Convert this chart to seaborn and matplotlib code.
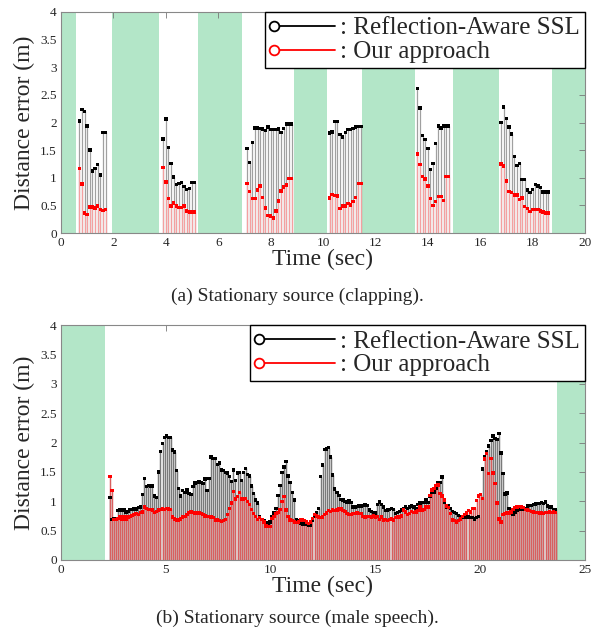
import numpy as np
import pandas as pd
import matplotlib
matplotlib.use('Agg')
import matplotlib.pyplot as plt
import seaborn as sns
from matplotlib.lines import Line2D
from matplotlib.legend_handler import HandlerLine2D
from matplotlib.ticker import FuncFormatter

# (a) stationary source, clapping: six bursts sampled every 0.1 s
clap_step = 0.1
clap_starts = [0.7, 3.9, 7.1, 10.25, 13.6, 16.8]
clap_ras = [
    [2.03, 2.23, 2.20, 1.94, 1.50, 1.12, 1.17, 1.24, 1.05, 1.82, 1.82],
    [1.70, 2.06, 1.55, 1.26, 1.01, 0.88, 0.90, 0.91, 0.84, 0.79, 0.81, 0.91, 0.91],
    [1.53, 1.28, 1.64, 1.90, 1.90, 1.89, 1.88, 1.86, 1.92, 1.87, 1.87, 1.87, 1.88,
     1.82, 1.89, 1.97, 1.97, 1.97],
    [1.81, 1.83, 2.02, 2.02, 1.78, 1.74, 1.82, 1.87, 1.87, 1.89, 1.92, 1.93, 1.93],
    [2.62, 2.26, 1.76, 1.69, 1.53, 1.15, 1.26, 1.62, 1.94, 1.90, 1.94, 1.94, 1.94],
    [2.00, 2.28, 2.07, 1.92, 1.79, 1.38, 1.22, 1.26, 0.97, 0.97, 0.78, 0.73, 0.79,
     0.88, 0.85, 0.82, 0.74, 0.74, 0.74],
]
clap_ours = [
    [1.17, 0.89, 0.36, 0.33, 0.47, 0.47, 0.45, 0.49, 0.42, 0.41, 0.42],
    [1.19, 0.92, 0.62, 0.49, 0.54, 0.49, 0.46, 0.46, 0.49, 0.40, 0.38, 0.38, 0.38],
    [0.90, 0.75, 0.62, 0.62, 0.78, 0.85, 0.64, 0.45, 0.32, 0.31, 0.27, 0.40, 0.58,
     0.76, 0.83, 0.87, 0.99, 0.99],
    [0.63, 0.70, 0.68, 0.67, 0.44, 0.49, 0.49, 0.53, 0.51, 0.57, 0.64, 0.90, 0.90],
    [1.43, 1.24, 1.02, 0.98, 0.85, 0.62, 0.50, 0.57, 0.66, 0.66, 0.59, 1.02, 1.02],
    [1.25, 1.21, 0.94, 0.75, 0.73, 0.69, 0.69, 0.61, 0.63, 0.48, 0.44, 0.39, 0.42,
     0.42, 0.42, 0.40, 0.38, 0.36, 0.36],
]
clap_silence = [(0, 0.57), (1.95, 3.75), (5.23, 6.9), (8.9, 10.15),
                (11.5, 13.5), (14.96, 16.7), (18.74, 20)]

# (b) stationary source, male speech
speech_start = 2.33
speech_end = 23.6
speech_ras = [
    1.06, 0.69, 0.70, 0.71, 0.84, 0.85, 0.85, 0.85, 0.81, 0.83, 0.86, 0.86, 0.87,
    0.87, 0.89, 0.90, 1.11, 1.39, 1.25, 1.27, 1.26, 1.26, 1.09, 1.06, 1.50, 1.85,
    1.98, 2.09, 2.11, 2.09, 2.09, 1.87, 1.84, 1.52, 1.22, 1.09, 1.18,
    1.15, 1.19, 1.13, 1.11, 1.25, 1.31, 1.32, 1.34, 1.32, 1.30, 1.38, 1.18, 1.39,
    1.75, 1.73, 1.73, 1.63, 1.65, 1.53, 1.52, 1.49, 1.48, 1.42, 1.34, 1.53, 1.35,
    1.48, 1.49, 1.35, 1.49, 1.56, 1.46, 1.43, 1.26, 1.13, 1.02, 0.97,
    0.73, 0.69, 0.67, 0.64, 0.60, 0.65, 0.73, 0.80, 0.88, 1.10, 1.27, 1.49, 1.58,
    1.68, 1.43, 1.32, 1.15, 1.02, 0.69, 0.67, 0.62, 0.61, 0.61, 0.61, 0.59, 0.59,
    0.68, 0.74, 0.81, 0.88, 1.42, 1.62, 1.88, 1.89, 1.91, 1.75,
    1.45, 1.21, 1.15, 1.10, 1.03, 1.02, 1.00, 0.99, 1.01, 0.98, 0.90, 0.90, 0.91,
    0.92, 0.92, 0.93, 0.94, 0.93, 0.85, 0.83, 0.81, 0.80, 0.94, 0.99, 0.94, 0.90,
    0.84, 0.85, 0.86, 0.88, 0.86, 0.79, 0.81, 0.83, 0.85, 0.88, 0.90,
    0.88, 0.90, 0.92, 0.90, 0.88, 0.94, 0.97, 0.98, 0.98, 1.03, 0.98, 1.09, 1.16,
    1.16, 1.22, 1.31, 1.32, 1.41, 0.99, 0.90, 0.92, 0.88, 0.83, 0.81, 0.79, 0.76,
    0.74, 0.73, 0.73, 0.73, 0.73, 0.72, 0.72, 0.70, 0.72, 0.74, 1.11, 1.55,
    1.76, 1.85, 1.94, 2.03, 2.11, 2.07, 2.05, 2.15, 1.82, 1.47, 1.12, 1.14, 0.88,
    0.81, 0.78, 0.82, 0.84, 0.86, 0.87, 0.86, 0.88, 0.92, 0.93, 0.93, 0.94, 0.95,
    0.96, 0.96, 0.98, 0.96, 0.99, 0.92, 0.90, 0.90, 0.86, 0.86,
]
speech_ours = [
    1.42, 1.18, 0.69, 0.69, 0.71, 0.73, 0.70, 0.73, 0.69, 0.73, 0.74, 0.76, 0.77,
    0.79, 0.77, 0.81, 0.82, 0.90, 0.88, 0.86, 0.86, 0.85, 0.81, 0.83, 0.85, 0.86,
    0.87, 0.86, 0.88, 0.87, 0.86, 0.73, 0.70, 0.68, 0.68, 0.70, 0.73,
    0.74, 0.77, 0.81, 0.83, 0.81, 0.80, 0.80, 0.80, 0.79, 0.77, 0.75, 0.74, 0.74,
    0.73, 0.72, 0.68, 0.68, 0.67, 0.66, 0.67, 0.69, 0.77, 0.88, 0.97, 1.17, 1.04,
    1.08, 1.15, 1.04, 1.04, 1.05, 1.00, 0.94, 0.86, 0.79, 0.74, 0.69,
    0.72, 0.69, 0.65, 0.58, 0.57, 0.57, 0.71, 0.74, 0.79, 0.81, 0.86, 1.00, 1.08,
    0.85, 0.74, 0.68, 0.67, 0.65, 0.64, 0.65, 0.68, 0.68, 0.67, 0.65, 0.62, 0.65,
    0.71, 0.77, 0.75, 0.73, 0.72, 0.73, 0.77, 0.80, 0.84, 0.83,
    0.85, 0.84, 0.85, 0.88, 0.87, 0.84, 0.83, 0.79, 0.77, 0.77, 0.79, 0.79, 0.80,
    0.79, 0.79, 0.74, 0.73, 0.74, 0.74, 0.73, 0.75, 0.73, 0.74, 0.69, 0.73, 0.68,
    0.69, 0.67, 0.69, 0.70, 0.68, 0.72, 0.73, 0.73, 0.75, 0.85, 0.82,
    0.77, 0.79, 0.83, 0.81, 0.82, 0.84, 0.90, 0.85, 0.86, 0.90, 0.90, 1.10, 1.19,
    1.22, 1.27, 1.28, 1.13, 1.09, 1.02, 0.92, 0.89, 0.79, 0.68, 0.67, 0.65, 0.67,
    0.70, 0.74, 0.77, 0.80, 0.84, 0.82, 0.88, 0.88, 1.01, 1.09, 1.11, 1.05,
    1.72, 1.81, 1.47, 1.73, 1.48, 1.30, 0.97, 0.70, 0.65, 0.77, 0.79, 0.80, 0.80,
    0.82, 0.86, 0.89, 0.90, 0.91, 0.90, 0.89, 0.86, 0.85, 0.84, 0.83, 0.82, 0.81,
    0.81, 0.80, 0.80, 0.79, 0.81, 0.81, 0.82, 0.81, 0.82, 0.81,
]
speech_silence = [(0, 2.1), (23.65, 25)]

label_ras = ': Reflection-Aware SSL'
label_ours = ': Our approach'
silence_color = '#b3e6c8'


class MarkerAtStart(HandlerLine2D):
    # legend handle "o----": marker on the left end of the line
    def create_artists(self, legend, orig_handle, xdescent, ydescent,
                       width, height, fontsize, trans):
        y = (height - ydescent) / 2
        line = Line2D([-xdescent + 3, -xdescent + width], [y, y])
        self.update_prop(line, orig_handle, legend)
        line.set_markevery([0])
        line.set_transform(trans)
        return [line]


def make_frame(times, ras, ours):
    df = pd.DataFrame({'time': np.concatenate([times, times]),
                       'error': np.concatenate([ras, ours]),
                       'method': ['ras'] * len(times) + ['ours'] * len(times)})
    return df


def draw_panel(ax, df, silence, xmax, xstep, stem_lw, grey, red, handlelength):
    for a, b in silence:
        ax.axvspan(a, b, facecolor=silence_color, edgecolor='none',
                   alpha=1.0, zorder=0)
    r = df[df.method == 'ras']
    o = df[df.method == 'ours']
    ax.vlines(r.time, 0, r.error, colors=grey, lw=stem_lw, zorder=1)
    ax.vlines(o.time, 0, o.error, colors=red, lw=stem_lw, zorder=2)
    sns.scatterplot(data=df, x='time', y='error', hue='method',
                    palette={'ras': 'black', 'ours': 'red'}, marker='s',
                    s=6, linewidth=0, legend=False, zorder=3, ax=ax)
    ax.set_xlim(0, xmax)
    ax.set_ylim(0, 4)
    ax.set_xticks(np.arange(0, xmax + 0.01, xstep))
    ax.set_yticks(np.arange(0, 4.01, 0.5))
    ax.yaxis.set_major_formatter(FuncFormatter(lambda v, p: '%g' % v))
    ax.xaxis.set_major_formatter(FuncFormatter(lambda v, p: '%g' % v))
    ax.tick_params(direction='in', length=4, width=0.6, color='#777777',
                   top=True, right=True, labelsize=9.5, pad=3)
    for s in ax.spines.values():
        s.set_color('#888888')
        s.set_linewidth(0.8)
    ax.set_xlabel('Time (sec)', fontsize=17, labelpad=0)
    ax.set_ylabel('Distance error (m)', fontsize=17, labelpad=4)
    handles = [Line2D([], [], color='black', lw=1.3, marker='o', ms=7,
                      mfc='white', mec='black', mew=1.3),
               Line2D([], [], color='red', lw=1.3, marker='o', ms=7,
                      mfc='white', mec='red', mew=1.3)]
    leg = ax.legend(handles, [label_ras, label_ours], loc='upper right',
                    fontsize=18, frameon=True, fancybox=False, framealpha=1,
                    borderaxespad=0, borderpad=0.2, labelspacing=0.05,
                    handlelength=handlelength, handletextpad=0.2,
                    handler_map={Line2D: MarkerAtStart()})
    leg.get_frame().set_edgecolor('black')
    leg.get_frame().set_linewidth(1.0)
    leg.set_zorder(5)


sns.set_theme(style='white')
plt.rcParams['font.family'] = ['Liberation Serif', 'DejaVu Serif']

clap_time = np.concatenate([s + clap_step * np.arange(len(v))
                            for s, v in zip(clap_starts, clap_ras)])
clap_df = make_frame(clap_time, np.concatenate(clap_ras), np.concatenate(clap_ours))

speech_time = np.linspace(speech_start, speech_end, len(speech_ras))
speech_df = make_frame(speech_time, np.array(speech_ras), np.array(speech_ours))

fig = plt.figure(figsize=(5.91, 6.33), dpi=100)
ax1 = fig.add_axes([61 / 591, 1 - 233 / 633, 524 / 591, 221 / 633])
ax2 = fig.add_axes([61 / 591, 1 - 560 / 633, 524 / 591, 235 / 633])

draw_panel(ax1, clap_df, clap_silence, 20, 2, 0.9, '#a0a0a0', '#f4a0a0', 2.6)
draw_panel(ax2, speech_df, speech_silence, 25, 5, 1.05, '#7a7a7a', '#d85f5f', 3.2)

fig.text(0.503, 1 - 296 / 633, '(a) Stationary source (clapping).',
         ha='center', va='center', fontsize=14)
fig.text(0.503, 1 - 618 / 633, '(b) Stationary source (male speech).',
         ha='center', va='center', fontsize=14)

fig.savefig('out.png', dpi=100)
